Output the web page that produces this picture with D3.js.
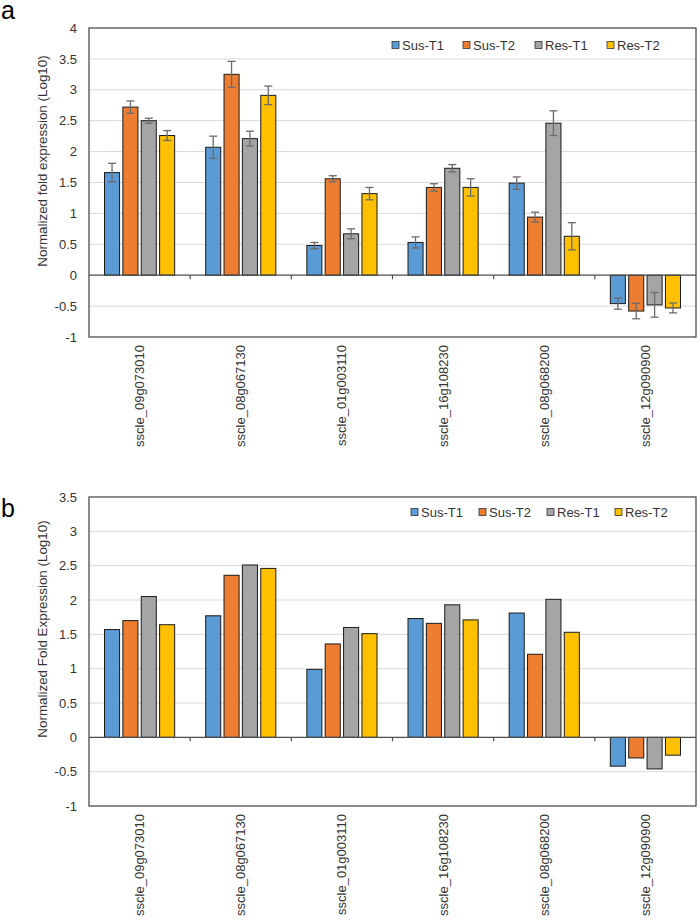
<!DOCTYPE html>
<html><head><meta charset="utf-8">
<script src="https://cdn.jsdelivr.net/npm/d3@7"></script>
<style>body{margin:0;background:#fff}svg{display:block}text{font-family:"Liberation Sans",Arial,sans-serif}</style>
</head><body>
<svg id="chart" width="698" height="920"></svg>
<script>
const categories = ["sscle_09g073010","sscle_08g067130","sscle_01g003110","sscle_16g108230","sscle_08g068200","sscle_12g090900"];
const seriesNames = ["Sus-T1","Sus-T2","Res-T1","Res-T2"];
const seriesColors = ["#5B9BD5","#ED7D31","#A5A5A5","#FFC000"];

// Panel a values and error bars
const aSusT1 = [1.66, 2.07, 0.48, 0.53, 1.49, -0.46];
const aSusT2 = [2.72, 3.25, 1.56, 1.42, 0.94, -0.58];
const aResT1 = [2.50, 2.21, 0.67, 1.73, 2.46, -0.48];
const aResT2 = [2.26, 2.91, 1.32, 1.42, 0.63, -0.53];
const aErrSusT1 = [0.15, 0.18, 0.05, 0.09, 0.10, 0.09];
const aErrSusT2 = [0.10, 0.21, 0.05, 0.06, 0.08, 0.125];
const aErrResT1 = [0.04, 0.12, 0.08, 0.06, 0.20, 0.20];
const aErrResT2 = [0.08, 0.15, 0.10, 0.14, 0.22, 0.08];
const aTicks = [-1,-0.5,0,0.5,1,1.5,2,2.5,3,3.5,4];

// Panel b values
const bSusT1 = [1.57, 1.77, 0.99, 1.73, 1.81, -0.42];
const bSusT2 = [1.70, 2.36, 1.36, 1.66, 1.21, -0.30];
const bResT1 = [2.05, 2.51, 1.60, 1.93, 2.01, -0.46];
const bResT2 = [1.64, 2.46, 1.51, 1.71, 1.53, -0.26];
const bTicks = [-1,-0.5,0,0.5,1,1.5,2,2.5,3,3.5];

const svg = d3.select("#chart");

function drawPanel(opt){
  const g = svg.append("g");
  const left = 89, right = 696;
  const y = d3.scaleLinear().domain(opt.domain).range([opt.bottom, opt.top]);
  const x0 = d3.scaleBand().domain(categories).range([left, right]).padding(0);
  const x1 = d3.scaleBand().domain(seriesNames).range([15.5, x0.bandwidth()-15.5]).paddingInner(0.18);

  // gridlines
  g.selectAll(".grid").data(opt.ticks.filter(t => t !== 0 && t !== opt.domain[0] && t !== opt.domain[1]))
    .join("line").attr("x1", left).attr("x2", right)
    .attr("y1", d => y(d)).attr("y2", d => y(d))
    .attr("stroke", "#d9d9d9").attr("stroke-width", 1);

  // y axis labels
  const yAxis = d3.axisLeft(y).tickValues(opt.ticks).tickSize(0).tickPadding(12).tickFormat(d => String(d));
  const ya = g.append("g").attr("transform", `translate(${left},0)`).call(yAxis);
  ya.select(".domain").remove();
  ya.selectAll("text").attr("font-size", 13).attr("fill", "#333").attr("font-family", '"Liberation Sans",Arial,sans-serif');

  // bars
  const data = [];
  categories.forEach((c, i) => {
    seriesNames.forEach((s, j) => {
      data.push({c, s, j, v: opt.values[j][i], e: opt.errors ? opt.errors[j][i] : null});
    });
  });
  g.selectAll(".bar").data(data).join("rect")
    .attr("x", d => x0(d.c) + x1(d.s))
    .attr("width", x1.bandwidth())
    .attr("y", d => Math.min(y(d.v), y(0)))
    .attr("height", d => Math.abs(y(d.v) - y(0)))
    .attr("fill", d => seriesColors[d.j])
    .attr("stroke", "#1a1a1a").attr("stroke-width", 1);

  // error bars
  if (opt.errors){
    const eb = g.selectAll(".err").data(data).join("g").attr("stroke", "#6b6b6b").attr("stroke-width", 1.3);
    eb.append("line")
      .attr("x1", d => x0(d.c) + x1(d.s) + x1.bandwidth()/2)
      .attr("x2", d => x0(d.c) + x1(d.s) + x1.bandwidth()/2)
      .attr("y1", d => y(d.v + d.e)).attr("y2", d => y(d.v - d.e));
    [1, -1].forEach(sg => {
      eb.append("line")
        .attr("x1", d => x0(d.c) + x1(d.s) + x1.bandwidth()/2 - 4)
        .attr("x2", d => x0(d.c) + x1(d.s) + x1.bandwidth()/2 + 4)
        .attr("y1", d => y(d.v + sg*d.e)).attr("y2", d => y(d.v + sg*d.e));
    });
  }

  // zero axis with ticks between categories
  g.append("line").attr("x1", left).attr("x2", right).attr("y1", y(0)).attr("y2", y(0))
    .attr("stroke", "#4d4d4d").attr("stroke-width", 1.3);
  g.selectAll(".ctick").data(categories.slice(1)).join("line")
    .attr("x1", d => x0(d)).attr("x2", d => x0(d))
    .attr("y1", y(0)).attr("y2", y(0) + 4)
    .attr("stroke", "#4d4d4d").attr("stroke-width", 1.2);

  // frame
  g.append("rect").attr("x", left).attr("y", opt.top).attr("width", right - left).attr("height", opt.bottom - opt.top)
    .attr("fill", "none").attr("stroke", "#4d4d4d").attr("stroke-width", 1.3);

  // category labels
  g.selectAll(".clab").data(categories).join("text")
    .attr("transform", d => `translate(${x0(d) + x0.bandwidth()/2 + 4.5},${opt.bottom + 8}) rotate(-90)`)
    .attr("text-anchor", "end").attr("font-size", 13).attr("fill", "#333")
    .text(d => d);

  // y title
  g.append("text")
    .attr("transform", `translate(${opt.titleX},${opt.titleY}) rotate(-90)`)
    .attr("text-anchor", "middle").attr("font-size", 13.4).attr("fill", "#333")
    .text(opt.title);

  // legend
  const lg = g.append("g");
  seriesNames.forEach((s, j) => {
    const lx = opt.legendX[j];
    lg.append("rect").attr("x", lx).attr("y", opt.legendY - 3.5).attr("width", 7).attr("height", 7)
      .attr("fill", seriesColors[j]).attr("stroke", "#333").attr("stroke-width", 0.8);
    lg.append("text").attr("x", lx + 10).attr("y", opt.legendY).attr("dy", "0.36em")
      .attr("font-size", 13).attr("fill", "#333").text(s);
  });

  // panel letter
  g.append("text").attr("x", 1).attr("y", opt.letterY).attr("font-size", 25).attr("fill", "#000").text(opt.letter);
}

drawPanel({
  top: 28, bottom: 337, domain: [-1, 4], ticks: aTicks,
  values: [aSusT1, aSusT2, aResT1, aResT2],
  errors: [aErrSusT1, aErrSusT2, aErrResT1, aErrResT2],
  title: "Normalized fold expression (Log10)", titleX: 47, titleY: 161,
  legendX: [392, 463, 535, 607], legendY: 45,
  letter: "a", letterY: 19
});

drawPanel({
  top: 497, bottom: 806, domain: [-1, 3.5], ticks: bTicks,
  values: [bSusT1, bSusT2, bResT1, bResT2],
  errors: null,
  title: "Normalized Fold Expression (Log10)", titleX: 47, titleY: 629,
  legendX: [411, 479, 547, 615], legendY: 512,
  letter: "b", letterY: 517
});
</script>
</body></html>
